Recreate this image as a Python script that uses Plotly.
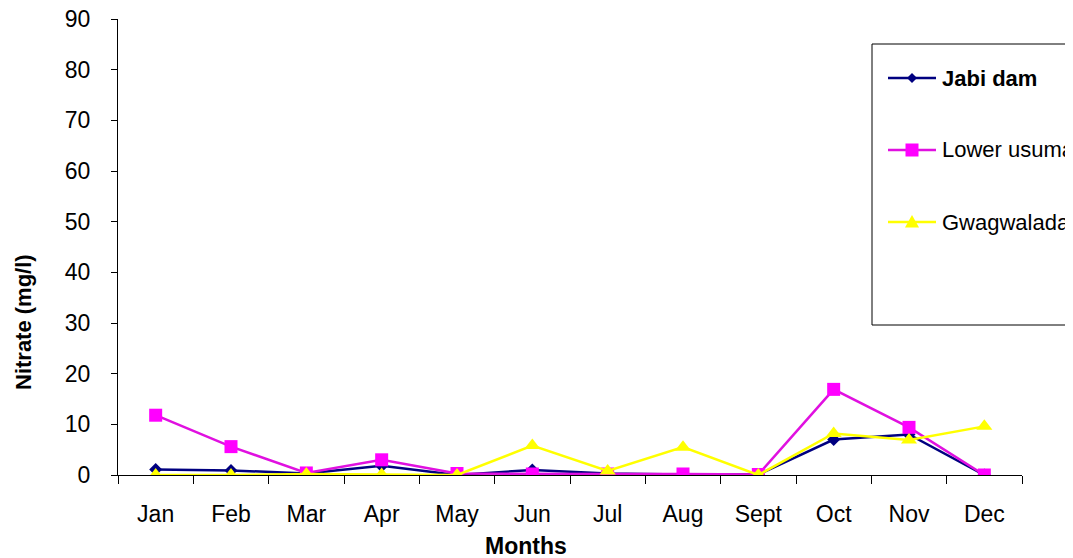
import plotly.graph_objects as go

months = ["Jan", "Feb", "Mar", "Apr", "May", "Jun", "Jul", "Aug", "Sept", "Oct", "Nov", "Dec"]
jabi_dam = [1.1, 0.9, 0.3, 1.8, 0.0, 1.0, 0.3, 0.1, 0.1, 7.0, 8.0, 0.0]
lower_usuma = [11.8, 5.6, 0.4, 3.0, 0.3, 0.2, 0.2, 0.2, 0.1, 16.9, 9.4, 0.0]
gwagwalada = [0.0, 0.0, 0.2, 0.1, 0.0, 5.8, 0.8, 5.5, 0.0, 8.2, 6.9, 9.6]
y_ticks = [0, 10, 20, 30, 40, 50, 60, 70, 80, 90]

NAVY = "#000080"
MAGENTA = "#FF00FF"
MAG_LINE = "#E010E0"
YELLOW = "#FFFF00"
FONT = "Arial, Liberation Sans, sans-serif"

# page is 1073x558; the plot div sits 8px in from the page's top-left corner
PAGE_W, PAGE_H, OFF = 1073, 558, 8
W, H = PAGE_W - OFF, PAGE_H - OFF
# plot area in page pixels
L, R, T, B = 118, 1022, 19, 475


def px(x):
    return (x - L) / (R - L)


def py(y):
    return (B - y) / (B - T)


fig = go.Figure()
fig.add_trace(go.Scatter(x=months, y=jabi_dam, mode="lines+markers", name="Jabi dam",
                         line=dict(color=NAVY, width=2.5),
                         marker=dict(symbol="diamond", size=10, color=NAVY)))
fig.add_trace(go.Scatter(x=months, y=lower_usuma, mode="lines+markers", name="Lower usuma",
                         line=dict(color=MAG_LINE, width=2.5),
                         marker=dict(symbol="square", size=13, color=MAGENTA)))
fig.add_trace(go.Scatter(x=months, y=gwagwalada, mode="lines+markers", name="Gwagwalada",
                         line=dict(color=YELLOW, width=2.5),
                         marker=dict(symbol="triangle-up", size=14, color=YELLOW)))

shapes = []
annotations = []

# legend box
shapes.append(dict(type="rect", xref="paper", yref="paper",
                   x0=px(872), x1=px(1200), y0=py(325), y1=py(44),
                   line=dict(color="black", width=1), fillcolor="rgba(0,0,0,0)"))

legend_items = [
    ("<b>Jabi dam</b>", 78, NAVY, NAVY, "diamond"),
    ("Lower usuma", 150, MAG_LINE, MAGENTA, "square"),
    ("Gwagwalada", 222, YELLOW, YELLOW, "triangle"),
]
for text, yy, lcol, mcol, sym in legend_items:
    shapes.append(dict(type="line", xref="paper", yref="paper",
                       x0=px(888), x1=px(936), y0=py(yy), y1=py(yy),
                       line=dict(color=lcol, width=2.5)))
    cx = 912
    if sym == "diamond":
        d = 5
        path = (f"M {px(cx)},{py(yy - d)} L {px(cx + d)},{py(yy)} "
                f"L {px(cx)},{py(yy + d)} L {px(cx - d)},{py(yy)} Z")
    elif sym == "square":
        d = 6.5
        path = (f"M {px(cx - d)},{py(yy - d)} L {px(cx + d)},{py(yy - d)} "
                f"L {px(cx + d)},{py(yy + d)} L {px(cx - d)},{py(yy + d)} Z")
    else:
        d = 7
        path = (f"M {px(cx)},{py(yy - d)} L {px(cx + d)},{py(yy + d * 0.8)} "
                f"L {px(cx - d)},{py(yy + d * 0.8)} Z")
    shapes.append(dict(type="path", xref="paper", yref="paper", path=path,
                       fillcolor=mcol, line=dict(color=mcol, width=0)))
    annotations.append(dict(text=text, xref="paper", yref="paper",
                            x=px(940), y=py(yy), xanchor="left", yanchor="middle",
                            showarrow=False, font=dict(family=FONT, size=22, color="black")))

# axis titles
annotations.append(dict(text="<b>Nitrate (mg/l)</b>", xref="paper", yref="paper",
                        x=px(23), y=py(322), xanchor="center", yanchor="middle",
                        textangle=-90, showarrow=False,
                        font=dict(family=FONT, size=22, color="black")))
annotations.append(dict(text="<b>Months</b>", xref="paper", yref="paper",
                        x=px(526), y=py(546), xanchor="center", yanchor="middle",
                        showarrow=False, font=dict(family=FONT, size=23, color="black")))

fig.update_layout(
    width=W, height=H,
    margin=dict(l=L - OFF, r=PAGE_W - R, t=T - OFF, b=PAGE_H - B, autoexpand=False),
    paper_bgcolor="white", plot_bgcolor="white",
    showlegend=False,
    shapes=shapes, annotations=annotations,
    font=dict(family=FONT, size=23, color="black"),
)
fig.update_xaxes(type="category", categoryorder="array", categoryarray=months,
                 range=[-0.5, 11.5], showgrid=False, zeroline=False,
                 showline=True, linecolor="black", linewidth=1,
                 ticks="outside", tickson="boundaries", ticklen=8, tickcolor="black",
                 ticklabelstandoff=18,
                 tickfont=dict(family=FONT, size=23, color="black"))
fig.update_yaxes(range=[0, 90], tickvals=y_ticks, showgrid=False, zeroline=False,
                 showline=True, linecolor="black", linewidth=1,
                 ticks="outside", ticklen=6, tickcolor="black",
                 ticklabelstandoff=16, ticklabeloverflow="allow",
                 tickfont=dict(family=FONT, size=23, color="black"))

fig.write_html("out.html")
